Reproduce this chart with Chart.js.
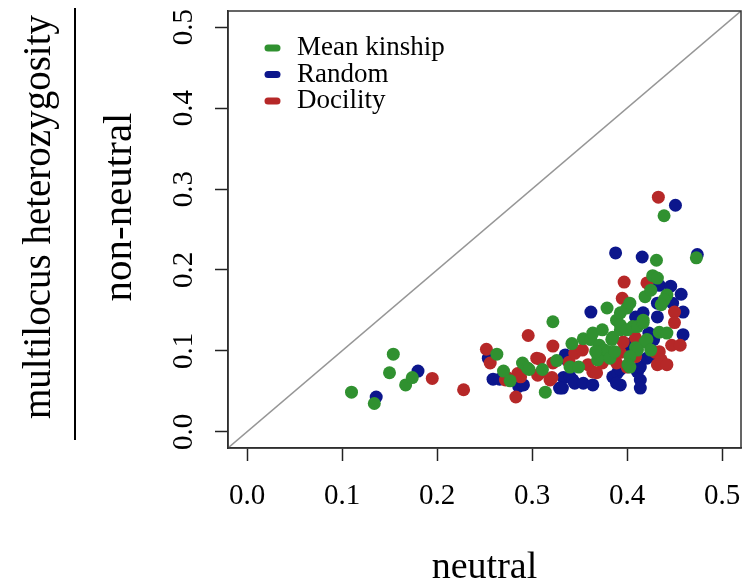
<!DOCTYPE html>
<html>
<head>
<meta charset="utf-8">
<script src="https://cdn.jsdelivr.net/npm/chart.js@4"></script>
<style>
  html, body { margin: 0; padding: 0; background: #fff; }
  #wrap { width: 750px; height: 584px; }
</style>
</head>
<body>
<div id="wrap"><canvas id="hetChart" width="750" height="584"></canvas></div>
<script>
// tick values shared by both axes
var tickValues = [0.0, 0.1, 0.2, 0.3, 0.4, 0.5];
var axisMin = -0.02, axisMax = 0.52;

// Mean kinship (green)
var kinshipX = [0.110, 0.134, 0.150, 0.154, 0.167, 0.174, 0.263, 0.270, 0.277, 0.290, 0.295, 0.297, 0.311,
    0.314, 0.322, 0.326, 0.340, 0.342, 0.349, 0.354, 0.362, 0.364, 0.371, 0.374, 0.376, 0.373, 0.380, 0.382,
    0.369, 0.367, 0.384, 0.387, 0.385, 0.379, 0.389, 0.393, 0.393, 0.393, 0.400, 0.403, 0.400, 0.406, 0.411,
    0.417, 0.417, 0.419, 0.425, 0.427, 0.432, 0.442, 0.439, 0.436, 0.434, 0.442, 0.421, 0.419, 0.425, 0.409,
    0.411, 0.403, 0.401, 0.403, 0.439, 0.431, 0.473];
var kinshipY = [0.049, 0.035, 0.073, 0.096, 0.058, 0.067, 0.096, 0.075, 0.063, 0.085, 0.079, 0.077, 0.077,
    0.049, 0.136, 0.088, 0.080, 0.109, 0.080, 0.115, 0.114, 0.122, 0.107, 0.126, 0.101, 0.095, 0.099, 0.091,
    0.089, 0.099, 0.114, 0.099, 0.117, 0.153, 0.138, 0.147, 0.126, 0.132, 0.153, 0.159, 0.126, 0.130, 0.130,
    0.135, 0.138, 0.167, 0.175, 0.193, 0.190, 0.169, 0.163, 0.157, 0.123, 0.122, 0.114, 0.111, 0.101, 0.104,
    0.101, 0.093, 0.083, 0.080, 0.267, 0.212, 0.215];

// Random (blue)
var randomX = [0.136, 0.180, 0.254, 0.259, 0.266, 0.286, 0.291, 0.335, 0.337, 0.333, 0.340, 0.343, 0.345,
    0.354, 0.364, 0.332, 0.329, 0.362, 0.385, 0.390, 0.393, 0.389, 0.393, 0.414, 0.414, 0.411, 0.414, 0.409,
    0.417, 0.423, 0.428, 0.459, 0.421, 0.427, 0.425, 0.400, 0.406, 0.434, 0.446, 0.457, 0.448, 0.432, 0.432,
    0.459, 0.451, 0.388, 0.416, 0.474];
var randomY = [0.043, 0.075, 0.091, 0.065, 0.065, 0.056, 0.058, 0.095, 0.089, 0.067, 0.068, 0.064, 0.060,
    0.060, 0.058, 0.054, 0.054, 0.148, 0.068, 0.073, 0.058, 0.060, 0.077, 0.064, 0.054, 0.074, 0.080, 0.142,
    0.147, 0.122, 0.114, 0.120, 0.091, 0.099, 0.095, 0.107, 0.110, 0.181, 0.180, 0.170, 0.159, 0.159, 0.142,
    0.148, 0.280, 0.221, 0.216, 0.219];

// Docility (red)
var docilityX = [0.195, 0.228, 0.252, 0.256, 0.272, 0.274, 0.285, 0.288, 0.283, 0.296, 0.305, 0.306, 0.308,
    0.310, 0.319, 0.321, 0.322, 0.322, 0.339, 0.345, 0.353, 0.359, 0.364, 0.368, 0.374, 0.389, 0.393, 0.400,
    0.396, 0.409, 0.409, 0.397, 0.421, 0.395, 0.450, 0.450, 0.447, 0.456, 0.430, 0.434, 0.436, 0.432, 0.442,
    0.433];
var docilityY = [0.066, 0.052, 0.102, 0.085, 0.064, 0.067, 0.072, 0.068, 0.043, 0.119, 0.091, 0.070, 0.090,
    0.074, 0.064, 0.067, 0.106, 0.085, 0.086, 0.097, 0.101, 0.083, 0.074, 0.073, 0.085, 0.085, 0.098, 0.080,
    0.111, 0.116, 0.093, 0.185, 0.184, 0.165, 0.148, 0.135, 0.107, 0.107, 0.098, 0.099, 0.089, 0.083, 0.083,
    0.290];

function pairs(xs, ys) {
    return xs.map(function (x, i) { return { x: x, y: ys[i] }; });
}

var serif = "'Liberation Serif', 'DejaVu Serif', serif";

// box around plot + axis titles + legend inside the plot
var decorations = {
    id: 'decorations',
    afterDraw: function (chart) {
        var ctx = chart.ctx;
        var a = chart.chartArea;
        ctx.save();
        ctx.strokeStyle = '#333';
        ctx.lineWidth = 1.5;
        ctx.strokeRect(a.left, a.top, a.right - a.left, a.bottom - a.top);

        // y titles written as a fraction
        ctx.fillStyle = '#000';
        ctx.textAlign = 'center';
        ctx.textBaseline = 'middle';
        ctx.font = '41px ' + serif;
        ctx.save();
        ctx.translate(120, 207);
        ctx.rotate(-Math.PI / 2);
        ctx.fillText('non-neutral', 0, 0);
        ctx.restore();
        ctx.font = '39px ' + serif;
        ctx.save();
        ctx.translate(40, 217);
        ctx.rotate(-Math.PI / 2);
        ctx.fillText('multilocus heterozygosity', 0, 0);
        ctx.restore();
        ctx.lineWidth = 2;
        ctx.strokeStyle = '#000';
        ctx.beginPath();
        ctx.moveTo(75, 8);
        ctx.lineTo(75, 440);
        ctx.stroke();

        // x title
        ctx.font = '38px ' + serif;
        ctx.fillText('neutral', (a.left + a.right) / 2, 568);

        // legend
        ctx.font = '27px ' + serif;
        ctx.textAlign = 'left';
        chart.data.datasets.forEach(function (ds, i) {
            if (!ds.label) return;
            var y = 48 + i * 26.5;
            ctx.strokeStyle = ds.backgroundColor;
            ctx.lineWidth = 7;
            ctx.lineCap = 'round';
            ctx.beginPath();
            ctx.moveTo(268, y);
            ctx.lineTo(277, y);
            ctx.stroke();
            ctx.fillText(ds.label, 297, y);
        });
        ctx.restore();
    }
};

function setTicks(scale) {
    scale.ticks = tickValues.map(function (v) { return { value: v }; });
}

new Chart(document.getElementById('hetChart').getContext('2d'), {
    type: 'scatter',
    data: {
        datasets: [
            {
                label: 'Mean kinship',
                data: pairs(kinshipX, kinshipY),
                backgroundColor: 'rgb(48, 145, 48)',
                order: 0
            },
            {
                label: 'Random',
                data: pairs(randomX, randomY),
                backgroundColor: 'rgb(12, 22, 140)',
                order: 2
            },
            {
                label: 'Docility',
                data: pairs(docilityX, docilityY),
                backgroundColor: 'rgb(182, 40, 40)',
                order: 1
            },
            {
                // y = x reference line across the axis range
                type: 'line',
                data: [{ x: axisMin, y: axisMin }, { x: axisMax, y: axisMax }],
                borderColor: 'rgb(150, 150, 150)',
                borderWidth: 1.5,
                pointRadius: 0,
                order: 5
            }
        ]
    },
    plugins: [decorations],
    options: {
        responsive: false,
        animation: false,
        layout: { padding: { top: 11, right: 9, left: 0, bottom: 0 } },
        elements: { point: { radius: 6.5, borderWidth: 0, hoverRadius: 6.5 } },
        plugins: { legend: { display: false }, tooltip: { enabled: false } },
        scales: {
            x: {
                type: 'linear',
                min: axisMin,
                max: axisMax,
                afterBuildTicks: setTicks,
                afterFit: function (scale) {
                    scale.height = 136;
                    scale.paddingLeft = 0;
                    scale.paddingRight = 0;
                },
                grid: { drawOnChartArea: false, tickLength: 13, tickWidth: 1.5, tickColor: '#222' },
                border: { display: true, color: '#222', width: 1.5 },
                ticks: {
                    color: '#000',
                    font: { family: serif, size: 29 },
                    padding: 18,
                    maxRotation: 0,
                    callback: function (v) { return v.toFixed(1); }
                }
            },
            y: {
                type: 'linear',
                min: axisMin,
                max: axisMax,
                afterBuildTicks: setTicks,
                afterFit: function (scale) {
                    scale.width = 228;
                    scale.paddingTop = 0;
                    scale.paddingBottom = 0;
                },
                grid: { drawOnChartArea: false, tickLength: 13, tickWidth: 1.5, tickColor: '#222' },
                border: { display: true, color: '#222', width: 1.5 },
                ticks: {
                    color: '#000',
                    font: { family: serif, size: 29 },
                    padding: 12,
                    minRotation: 90,
                    maxRotation: 90,
                    crossAlign: 'center',
                    callback: function (v) { return v.toFixed(1); }
                }
            }
        }
    }
});
</script>
</body>
</html>
